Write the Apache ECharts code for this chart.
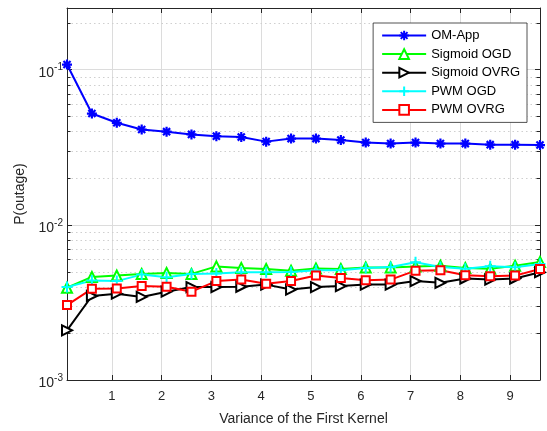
<!DOCTYPE html>
<html>
<head>
<meta charset="utf-8">
<script src="https://cdn.jsdelivr.net/npm/echarts@6/dist/echarts.min.js"></script>
<style>
html,body{margin:0;padding:0;background:#fff;}
#chart{width:547px;height:431px;}
</style>
</head>
<body>
<div id="chart"></div>
<script>
// ---- data ----
const xValues = [0.1,0.6,1.1,1.6,2.1,2.6,3.1,3.6,4.1,4.6,5.1,5.6,6.1,6.6,7.1,7.6,8.1,8.6,9.1,9.6];
const omApp = [0.108,0.0522,0.0455,0.0412,0.0399,0.0383,0.0373,0.0368,0.0344,0.0360,0.0360,0.0352,0.0339,0.0334,0.0339,0.0334,0.0334,0.0329,0.0329,0.0327];
const sigmoidOGD = [0.00393,0.00462,0.00471,0.00483,0.00490,0.00483,0.00540,0.00528,0.00520,0.00507,0.00523,0.00520,0.00532,0.00532,0.00540,0.00546,0.00528,0.00522,0.00546,0.00577];
const sigmoidOVRG = [0.00209,0.00348,0.00360,0.00343,0.00371,0.00397,0.00397,0.00399,0.00412,0.00383,0.00397,0.00403,0.00412,0.00412,0.00434,0.00423,0.00451,0.00444,0.00451,0.00495];
const pwmOGD = [0.00397,0.00438,0.00434,0.00478,0.00460,0.00483,0.00485,0.00495,0.00495,0.00497,0.00510,0.00510,0.00528,0.00535,0.00574,0.00535,0.00522,0.00541,0.00533,0.00560];
const pwmOVRG = [0.00304,0.00387,0.00389,0.00403,0.00399,0.00371,0.00434,0.00444,0.00417,0.00435,0.00471,0.00455,0.00440,0.00444,0.00507,0.00510,0.00474,0.00467,0.00471,0.00520];
const seriesNames = ['OM-App','Sigmoid OGD','Sigmoid OVRG','PWM OGD','PWM OVRG'];
const xMin = 0.1, xMax = 9.6;
const yMin = 0.001, yMax = 0.25;
const minorTickValues = [0.002,0.003,0.004,0.005,0.006,0.007,0.008,0.009,0.02,0.03,0.04,0.05,0.06,0.07,0.08,0.09,0.2];

function pairs(ys){ return xValues.map((x,i)=>[x, ys[i]]); }

const FONT = "'Liberation Sans', Arial, Helvetica, sans-serif";
const TXT = '#262626';
const asteriskPath = 'path://M0,-10L0,10M-10,0L10,0M-7.07,-7.07L7.07,7.07M-7.07,7.07L7.07,-7.07';
const plusPath = 'path://M0,-10L0,10M-10,0L10,0';

function lineSeries(name, data, color, symbol, size, extra){
  return Object.assign({
    name: name, type: 'line', data: pairs(data),
    xAxisIndex: 0, yAxisIndex: 0,
    symbol: symbol, symbolSize: size, showAllSymbol: true,
    lineStyle: {color: color, width: 2},
    itemStyle: {color: color, borderColor: color, borderWidth: 1.8},
    emphasis: {disabled: true}, animation: false
  }, extra || {});
}

const chart = echarts.init(document.getElementById('chart'), null, {renderer: 'canvas'});

const yLabelFmt = function(v){
  const e = Math.round(Math.log10(v));
  if (Math.abs(v - Math.pow(10, e)) / Math.pow(10, e) > 1e-6) return '';
  return '{b|10}{s|' + e + '}';
};

const option = {
  backgroundColor: '#fff',
  animation: false,
  textStyle: {fontFamily: FONT},
  grid: {left: 67, right: 7, top: 8, bottom: 49, containLabel: false},
  legend: {
    data: seriesNames,
    orient: 'vertical',
    right: 20, top: 23,
    itemWidth: 44, itemHeight: 12, itemGap: 5.6,
    padding: [6, 7, 6, 8],
    backgroundColor: '#fff',
    borderColor: '#262626', borderWidth: 0.8, borderRadius: 0,
    textStyle: {fontFamily: FONT, fontSize: 13, color: '#000'},
    selectedMode: false
  },
  xAxis: [{
    type: 'value', min: xMin, max: xMax, splitNumber: 10,
    position: 'bottom',
    name: 'Variance of the First Kernel', nameLocation: 'middle', nameGap: 32,
    nameTextStyle: {fontFamily: FONT, fontSize: 14, color: TXT},
    axisLine: {show: true, onZero: false, lineStyle: {color: TXT, width: 1}},
    axisTick: {show: true, inside: true, length: 5, lineStyle: {color: TXT}},
    axisLabel: {fontFamily: FONT, fontSize: 13, color: TXT, margin: 10,
      formatter: function(v){ return Math.abs(v - Math.round(v)) < 1e-9 ? String(Math.round(v)) : ''; }},
    splitLine: {show: true, lineStyle: {color: '#dcdcdc', width: 1}}
  },{
    type: 'value', min: xMin, max: xMax, splitNumber: 10,
    position: 'top',
    axisLine: {show: true, onZero: false, lineStyle: {color: TXT, width: 1}},
    axisTick: {show: true, inside: true, length: 5, lineStyle: {color: TXT}},
    axisLabel: {show: false},
    splitLine: {show: false}
  }],
  yAxis: [{
    type: 'log', logBase: 10, min: yMin, max: yMax,
    position: 'left',
    name: 'P(outage)', nameLocation: 'middle', nameGap: 34,
    nameTextStyle: {fontFamily: FONT, fontSize: 14, color: TXT},
    axisLine: {show: true, onZero: false, lineStyle: {color: TXT, width: 1}},
    axisTick: {show: true, inside: true, length: 5, lineStyle: {color: TXT}},
    axisLabel: {fontFamily: FONT, color: TXT, margin: 4, formatter: yLabelFmt,
      rich: {
        b: {fontFamily: FONT, fontSize: 14, color: TXT, padding: [6,0,0,0]},
        s: {fontFamily: FONT, fontSize: 10, color: TXT, padding: [0,0,4,0]}
      }},
    splitLine: {show: true, lineStyle: {color: '#dcdcdc', width: 1}}
  },{
    type: 'log', logBase: 10, min: yMin, max: yMax,
    position: 'right',
    axisLine: {show: true, onZero: false, lineStyle: {color: TXT, width: 1}},
    axisTick: {show: true, inside: true, length: 5, lineStyle: {color: TXT}},
    axisLabel: {show: false},
    splitLine: {show: false}
  }],
  series: [
    {
      name: 'minorTicks', type: 'custom', xAxisIndex: 0, yAxisIndex: 0,
      data: minorTickValues.map(v => [xMin, v]),
      silent: true, z: 1, clip: false,
      renderItem: function(params, api){
        const p = api.coord([xMin, api.value(1)]);
        const cs = params.coordSys;
        const y = Math.round(p[1]) + 0.5;
        const st = {stroke: '#cfcfcf', lineWidth: 1, lineDash: [1.5, 3]};
        const tk = {stroke: TXT, lineWidth: 1};
        return {type: 'group', children: [
          {type: 'line', shape: {x1: cs.x, y1: y, x2: cs.x + cs.width, y2: y}, style: st, z2: 0},
          {type: 'line', shape: {x1: cs.x, y1: y, x2: cs.x + 3.5, y2: y}, style: tk},
          {type: 'line', shape: {x1: cs.x + cs.width - 3.5, y1: y, x2: cs.x + cs.width, y2: y}, style: tk}
        ]};
      }
    },
    lineSeries('OM-App', omApp, '#0000ff', asteriskPath, 10, {itemStyle: {color: '#0000ff', borderColor: '#0000ff', borderWidth: 2.2}}),
    lineSeries('Sigmoid OGD', sigmoidOGD, '#00ff00', 'emptyTriangle', 10),
    lineSeries('Sigmoid OVRG', sigmoidOVRG, '#000000', 'emptyTriangle', 10, {symbolRotate: -90}),
    lineSeries('PWM OGD', pwmOGD, '#00ffff', plusPath, 11, {itemStyle: {color: '#00ffff', borderColor: '#00ffff', borderWidth: 2}}),
    lineSeries('PWM OVRG', pwmOVRG, '#ff0000', 'emptyRect', 8)
  ]
};
chart.setOption(option);
</script>
</body>
</html>
